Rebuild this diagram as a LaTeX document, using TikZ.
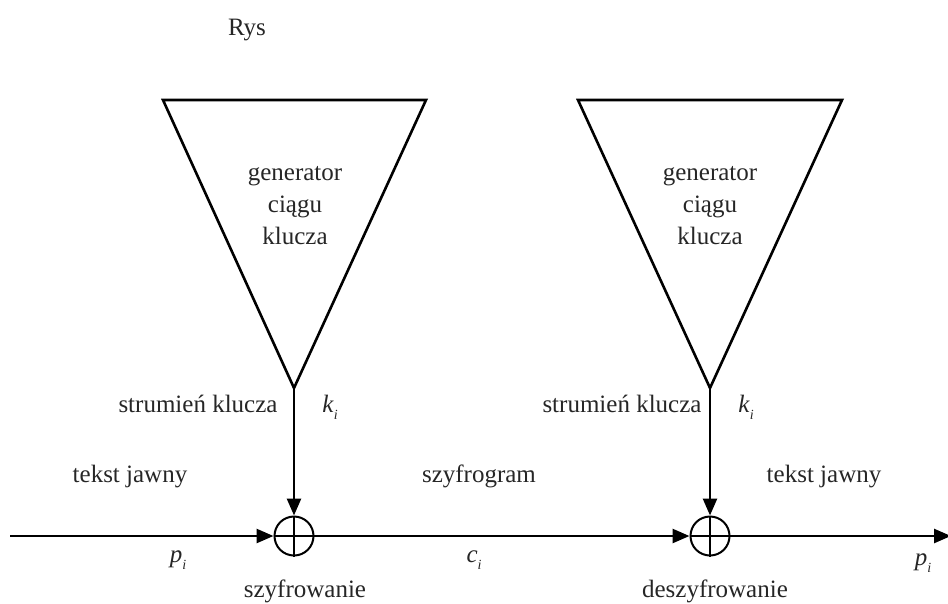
\documentclass[tikz,border=0pt]{standalone}
\usepackage{fontspec}
\setmainfont{Liberation Serif}
\usetikzlibrary{arrows.meta}
\newcommand\subi[1]{\raisebox{-0.28em}{\fontsize{14}{14}\selectfont\itshape #1}}
\begin{document}
\begin{tikzpicture}[x=1pt,y=-1pt,
  every node/.style={font=\fontsize{25}{32}\selectfont, text=black!85, inner sep=0pt},
  gen/.style={line width=2.6pt, line join=miter},
  line/.style={line width=2.6pt},
  arr/.style={line width=2.6pt, -{Triangle[length=17pt,width=14pt]}},
  xorc/.style={circle, draw, line width=2pt, minimum size=39pt, inner sep=0pt},
  lab/.style={anchor=base}]
\useasboundingbox (0,0) rectangle (948,603);
% generators
\coordinate (g1a) at (163,100);
\coordinate (g1b) at (426,100);
\coordinate (g1c) at (294,388);
\draw[gen] (g1a) -- (g1b) -- (g1c) -- cycle;
\coordinate (g2a) at (578,100);
\coordinate (g2b) at (842,100);
\coordinate (g2c) at (710,388);
\draw[gen] (g2a) -- (g2b) -- (g2c) -- cycle;
\node[align=center, anchor=base] (t1) at (295,244) {generator\\ciągu\\klucza};
\node[align=center, anchor=base] (t2) at (710,244) {generator\\ciągu\\klucza};
% xor nodes
\node[xorc] (x1) at (294,536) {};
\node[xorc] (x2) at (710,536) {};
\draw[line width=2pt] (x1.north) -- (x1.south) (x1.west) -- (x1.east);
\draw[line width=2pt] (x2.north) -- (x2.south) (x2.west) -- (x2.east);
% connectors
\coordinate (in) at (10,536);
\coordinate (out) at (951,536);
\draw[arr] (in) -- (x1.west);
\draw[arr] (x1.east) -- (x2.west);
\draw[arr] (x2.east) -- (out);
\draw[arr] (g1c) -- (x1.north);
\draw[arr] (g2c) -- (x2.north);
% labels
\node[lab] (rys) at (247,35) {Rys};
\node[lab] (s1) at (198,412) {strumień klucza};
\node[lab] (k1) at (330,412) {\textit{k}\subi{i}};
\node[lab] (s2) at (622,412) {strumień klucza};
\node[lab] (k2) at (746,412) {\textit{k}\subi{i}};
\node[lab] (tj1) at (130,482) {tekst jawny};
\node[lab] (sz) at (479,482) {szyfrogram};
\node[lab] (tj2) at (824,482) {tekst jawny};
\node[lab] (p1) at (178,562) {\textit{p}\subi{i}};
\node[lab] (c1) at (474,562) {\textit{c}\subi{i}};
\node[lab] (p2) at (923,565) {\textit{p}\subi{i}};
\node[lab] (e1) at (305,597) {szyfrowanie};
\node[lab] (d1) at (715,597) {deszyfrowanie};
\end{tikzpicture}
\end{document}
